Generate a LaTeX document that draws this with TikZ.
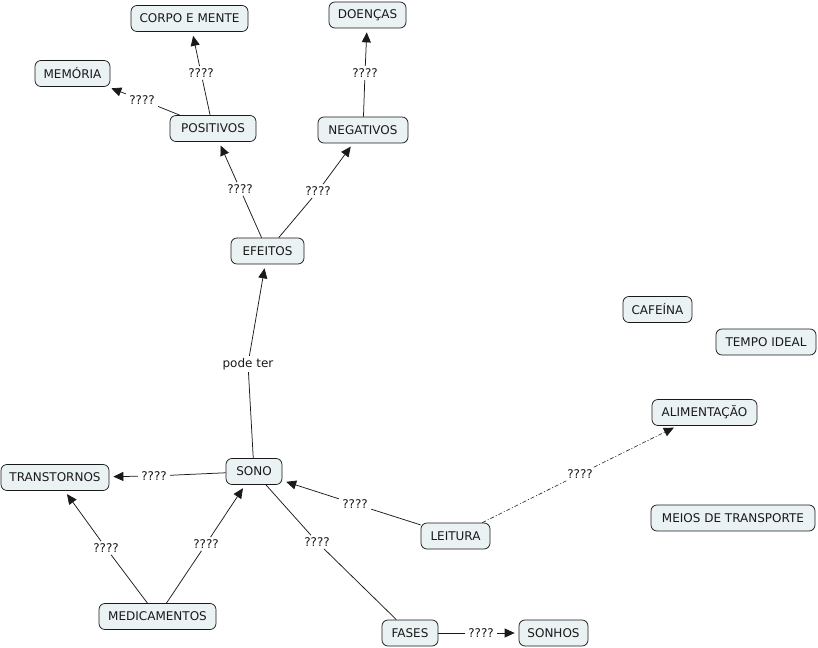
\documentclass[tikz,border=0pt]{standalone}
\usepackage{fontspec}
\setmainfont{DejaVu Sans}
\usetikzlibrary{arrows.meta, positioning}
\definecolor{cfill}{HTML}{EBF2F4}
\definecolor{cline}{HTML}{1A1A1A}
\tikzset{
  every picture/.style={font=\fontsize{12}{14}\selectfont, line width=0.75pt},
  concept/.style={draw=cline, fill=cfill, text=cline, rounded corners=6pt, inner xsep=6pt, minimum height=26pt, minimum width=#1},
  concept/.default=40pt,
  phrase/.style={fill=white, text=cline, inner xsep=3pt, inner ysep=2pt},
  link/.style={draw=cline},
  arrow/.style={-{Triangle[length=10pt, width=9pt]}, draw=cline, shorten >=4pt},
}

\begin{document}
\begin{tikzpicture}[x=1pt, y=-1pt,
  dashlink/.style={arrow, dash pattern=on 4pt off 2pt on 1pt off 2pt, line width=0.6pt}]
  \useasboundingbox (0,0) rectangle (818,647);
  % concepts
  \foreach \n/\x/\y/\w/\t in {corpo/189.5/18.5/117/CORPO E MENTE, doencas/367.5/15/77/DOENÇAS,
      memoria/72.5/73.5/75/MEMÓRIA, pos/213/128.5/86/POSITIVOS, neg/363/130/90/NEGATIVOS,
      efeitos/267.5/251/73/EFEITOS, cafeina/657.5/309.5/69/CAFEÍNA, tempo/766/342/100/TEMPO IDEAL,
      alim/704.5/412.5/105/ALIMENTAÇÃO, sono/254/471.5/56/SONO, trans/55/477.5/108/TRANSTORNOS,
      leitura/455.5/536/69/LEITURA, meios/733/518/164/MEIOS DE TRANSPORTE,
      medic/157.5/616.5/117/MEDICAMENTOS, fases/410/633/56/FASES, sonhos/553.5/633/69/SONHOS}
    \node[concept=\w pt] (\n) at (\x,\y) {\t};
  % linking phrases
  \foreach \n/\x/\y/\t in {lcorpo/201/73/????, lmem/142/100/????, ldoen/365/73/????,
      lpos/240/189/????, lneg/318/191/????, lpode/248/364/pode ter,
      ltrans/154/476/????, lmedt/106/548/????, lmeds/206/544/????,
      lleit/355/504/????, lfases/317/542/????, lsonhos/481/633/????, lalim/580/474/????}
    \node[phrase] (\n) at (\x,\y) {\t};
  % connectors
  \foreach \a/\l/\b in {pos/lcorpo/corpo, pos/lmem/memoria, neg/ldoen/doencas,
      efeitos/lpos/pos, efeitos/lneg/neg, sono/lpode/efeitos, sono/ltrans/trans,
      medic/lmedt/trans, medic/lmeds/sono, leitura/lleit/sono, fases/lsonhos/sonhos} {
    \draw[link] (\a) -- (\l);
    \draw[arrow] (\l) -- (\b);
  }
  \draw[link] (sono) -- (lfases) -- (fases);
  \draw[dashlink, shorten >=0pt, -] (leitura) -- (lalim);
  \draw[dashlink] (lalim) -- (alim);
\end{tikzpicture}
\end{document}
